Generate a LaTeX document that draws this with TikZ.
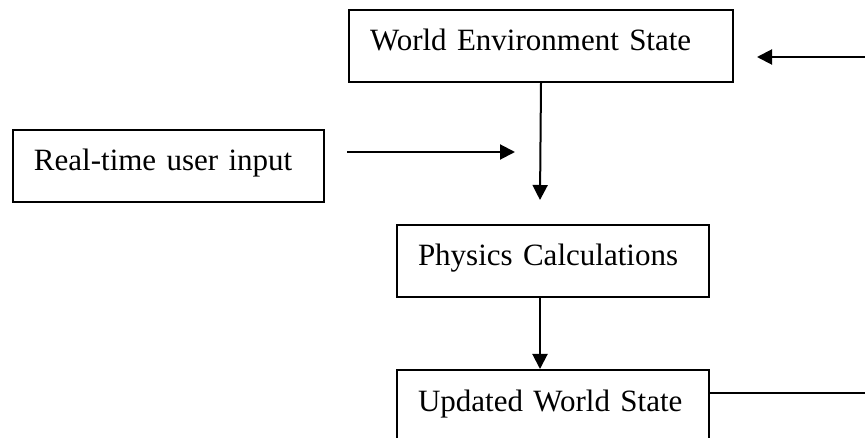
\documentclass[tikz,border=0pt]{standalone}
\usepackage{fontspec}
\setmainfont{Liberation Serif}
\usetikzlibrary{arrows.meta}
\begin{document}
\begin{tikzpicture}[x=1pt,y=-1pt,line width=2pt,>={Triangle[length=15pt,width=15pt]},
box/.style={draw,anchor=north west,inner xsep=21pt,inner ysep=0pt,text height=41pt,text depth=31pt,align=left,font=\fontsize{31}{37}\selectfont}]
\useasboundingbox (0,0) rectangle (865,438);
\clip (0,0) rectangle (865,438);
\node[box,text width=342pt] (world) at (348,9) {\mbox{World Environment State}};
\node[box,text width=269pt] (input) at (12,129) {\mbox{Real-time user input}};
\node[box,text width=270pt] (physics) at (396,224) {\mbox{Physics Calculations}};
\node[box,text width=270pt] (updated) at (396,369) {\mbox{Updated World State}};
\coordinate (join) at (540,200);
\coordinate (inA) at (347,152);
\coordinate (inB) at (515,152);
\coordinate (backA) at (865,57);
\coordinate (backB) at (757,57);
\coordinate (out) at (865,393);
\draw[->] (world.south) -- (join);
\draw[->] (inA) -- (inB);
\draw[->] (physics.south -| join) -- (updated.north -| join);
\draw (updated.east |- out) -- (out);
\draw[->] (backA) -- (backB);
\end{tikzpicture}
\end{document}
